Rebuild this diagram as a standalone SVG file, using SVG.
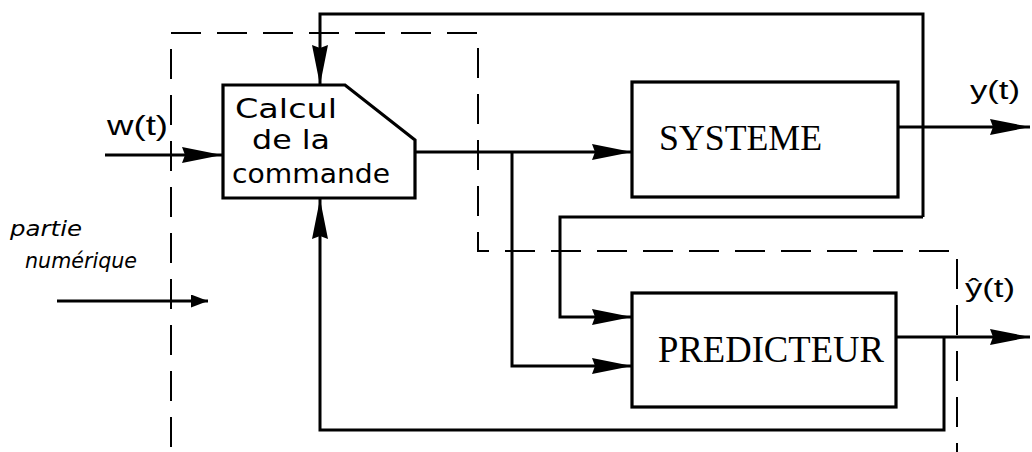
<svg xmlns="http://www.w3.org/2000/svg" width="1032" height="452" viewBox="0 0 1032 452">
<style>
.box{fill:#fff;stroke:#000;stroke-width:3.2}
.wire{fill:none;stroke:#000;stroke-width:3}
.dash{fill:none;stroke:#000;stroke-width:2;stroke-dasharray:30 16}
.serif{font-family:"Liberation Serif","Times New Roman",serif;fill:#000}
.sans{font-family:"Liberation Sans",Arial,sans-serif;fill:#000}
.hand{font-family:"DejaVu Sans",sans-serif;fill:#000}
</style>
<defs>
<marker id="ah" viewBox="0 0 40 16" refX="40" refY="8" markerWidth="40" markerHeight="16" markerUnits="userSpaceOnUse" orient="auto">
<path d="M0,0 L40,8 L0,16 L3,8 Z" fill="#000"/>
</marker>
<marker id="ahs" viewBox="0 0 17 13" refX="17" refY="6.5" markerWidth="17" markerHeight="13" markerUnits="userSpaceOnUse" orient="auto">
<path d="M0,0 L17,6.5 L0,13 Z" fill="#000"/>
</marker>
</defs>
<rect width="1032" height="452" fill="#fff"/>
<g id="boundary">
<path class="dash" d="M171,447 L171,33 L478,33 L478,251 L957,251 L957,452"/>
</g>
<g id="connectors">
<path class="wire" d="M105,155 L222,155" marker-end="url(#ah)"/>
<path class="wire" d="M415,152 L632,152" marker-end="url(#ah)"/>
<path class="wire" d="M512,152 L512,366 L632,366" marker-end="url(#ah)"/>
<path class="wire" d="M898,127 L1030,127" marker-end="url(#ah)"/>
<path class="wire" d="M923,217 L923,14 L320,14 L320,85" marker-end="url(#ah)"/>
<path class="wire" d="M923,217 L560,217 L560,317 L632,317" marker-end="url(#ah)"/>
<path class="wire" d="M896,337 L1030,337" marker-end="url(#ah)"/>
<path class="wire" d="M944,337 L944,430 L320,430 L320,199" marker-end="url(#ah)"/>
<path class="wire" d="M57,301 L208,301" stroke-width="2.2" marker-end="url(#ahs)"/>
</g>
<g id="calcul">
<path class="box" d="M223,85 L345,85 L415,140 L415,198 L223,198 Z"/>
<text class="hand" x="235" y="118" font-size="27" textLength="102" lengthAdjust="spacingAndGlyphs">Calcul</text>
<text class="hand" x="252" y="149" font-size="27" textLength="78" lengthAdjust="spacingAndGlyphs">de la</text>
<text class="hand" x="232" y="183" font-size="27" textLength="158" lengthAdjust="spacingAndGlyphs">commande</text>
</g>
<g id="systeme">
<rect class="box" x="632" y="82" width="266" height="115"/>
<text class="serif" x="659" y="150" font-size="35" textLength="163" lengthAdjust="spacingAndGlyphs">SYSTEME</text>
</g>
<g id="predicteur">
<rect class="box" x="632" y="293" width="264" height="114"/>
<text class="serif" x="658" y="362" font-size="37" textLength="226" lengthAdjust="spacingAndGlyphs">PREDICTEUR</text>
</g>
<g id="labels">
<text class="sans" x="107" y="135" font-size="28" textLength="61" lengthAdjust="spacingAndGlyphs">w(t)</text>
<text class="sans" x="970" y="99" font-size="26" textLength="50" lengthAdjust="spacingAndGlyphs">y(t)</text>
<text class="sans" x="965" y="297" font-size="26" textLength="50" lengthAdjust="spacingAndGlyphs">ŷ(t)</text>
<text class="hand" x="10" y="236" font-size="22" font-style="italic" textLength="72" lengthAdjust="spacingAndGlyphs">partie</text>
<text class="hand" x="25" y="268" font-size="22" font-style="italic" textLength="112" lengthAdjust="spacingAndGlyphs">numérique</text>
</g>
</svg>
